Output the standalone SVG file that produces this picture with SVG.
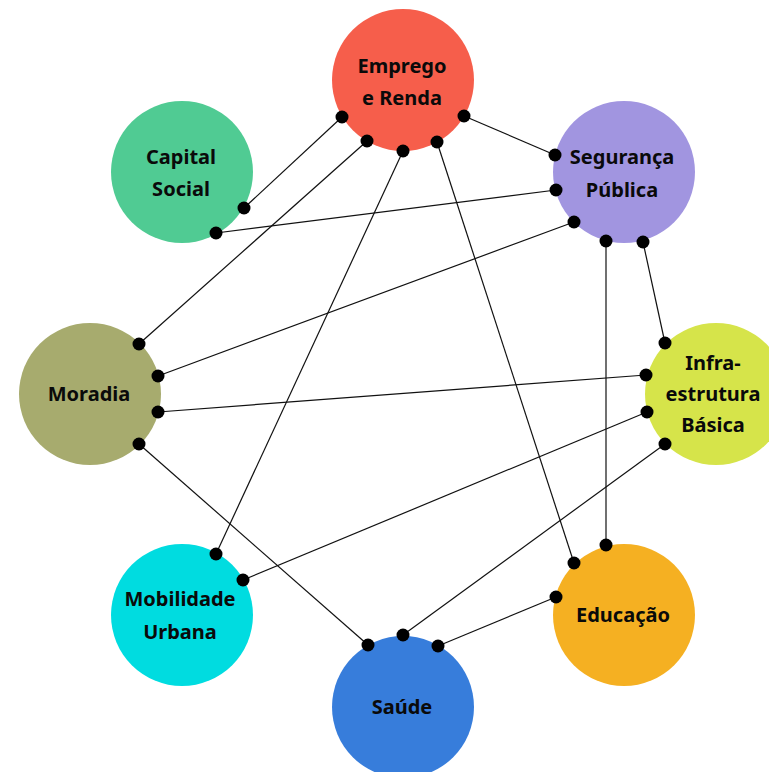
<svg xmlns="http://www.w3.org/2000/svg" width="769" height="772" viewBox="0 0 769 772">
<style>
.lbl{font-family:"Noto Sans","Open Sans","DejaVu Sans",sans-serif;font-weight:bold;font-size:20px;fill:#0a0a0a;text-anchor:middle}
.c line{stroke:#111;stroke-width:1.2}
.d{fill:#000}
</style>
<rect width="769" height="772" fill="#fff"/>
<g id="n-emprego"><circle cx="403" cy="80" r="71" fill="#f65e4b"/><text class="lbl" x="402" y="73">Emprego</text><text class="lbl" x="402" y="105">e Renda</text></g>
<g id="n-capital"><circle cx="182" cy="172" r="71" fill="#50cb93"/><text class="lbl" x="181" y="164">Capital</text><text class="lbl" x="181" y="196">Social</text></g>
<g id="n-seguranca"><circle cx="624" cy="172" r="71" fill="#a195e0"/><text class="lbl" x="622" y="164">Segurança</text><text class="lbl" x="622" y="197">Pública</text></g>
<g id="n-moradia"><circle cx="90" cy="394" r="71" fill="#a7ab6e"/><text class="lbl" x="89" y="401">Moradia</text></g>
<g id="n-infra"><circle cx="716" cy="394" r="71" fill="#d6e44a"/><text class="lbl" x="713" y="370">Infra-</text><text class="lbl" x="713" y="401">estrutura</text><text class="lbl" x="713" y="432">Básica</text></g>
<g id="n-mobilidade"><circle cx="182" cy="615" r="71" fill="#00dce0"/><text class="lbl" x="180" y="606">Mobilidade</text><text class="lbl" x="180" y="639">Urbana</text></g>
<g id="n-educacao"><circle cx="624" cy="615" r="71" fill="#f5b022"/><text class="lbl" x="623" y="622">Educação</text></g>
<g id="n-saude"><circle cx="403" cy="707" r="71" fill="#377ddb"/><text class="lbl" x="402" y="714">Saúde</text></g>
<g id="connectors" class="c">
<line x1="342" y1="117" x2="244" y2="208"/>
<line x1="464" y1="116" x2="555" y2="155"/>
<line x1="367" y1="141" x2="139" y2="344"/>
<line x1="403" y1="151" x2="216" y2="554"/>
<line x1="437" y1="142" x2="574" y2="563"/>
<line x1="216" y1="233" x2="556" y2="190"/>
<line x1="574" y1="222" x2="158" y2="376"/>
<line x1="606" y1="241" x2="606" y2="545"/>
<line x1="643" y1="242" x2="665" y2="343"/>
<line x1="646" y1="375" x2="158" y2="412"/>
<line x1="647" y1="412" x2="243" y2="580"/>
<line x1="665" y1="444" x2="403" y2="635"/>
<line x1="139" y1="444" x2="368" y2="645"/>
<line x1="556" y1="597" x2="438" y2="646"/>
<g class="d">
<circle cx="342" cy="117" r="6.5"/><circle cx="367" cy="141" r="6.5"/><circle cx="403" cy="151" r="6.5"/><circle cx="437" cy="142" r="6.5"/><circle cx="464" cy="116" r="6.5"/>
<circle cx="244" cy="208" r="6.5"/><circle cx="216" cy="233" r="6.5"/>
<circle cx="555" cy="155" r="6.5"/><circle cx="556" cy="190" r="6.5"/><circle cx="574" cy="222" r="6.5"/><circle cx="606" cy="241" r="6.5"/><circle cx="643" cy="242" r="6.5"/>
<circle cx="139" cy="344" r="6.5"/><circle cx="158" cy="376" r="6.5"/><circle cx="158" cy="412" r="6.5"/><circle cx="139" cy="444" r="6.5"/>
<circle cx="665" cy="343" r="6.5"/><circle cx="646" cy="375" r="6.5"/><circle cx="647" cy="412" r="6.5"/><circle cx="665" cy="444" r="6.5"/>
<circle cx="216" cy="554" r="6.5"/><circle cx="243" cy="580" r="6.5"/>
<circle cx="606" cy="545" r="6.5"/><circle cx="574" cy="563" r="6.5"/><circle cx="556" cy="597" r="6.5"/>
<circle cx="368" cy="645" r="6.5"/><circle cx="403" cy="635" r="6.5"/><circle cx="438" cy="646" r="6.5"/>
</g>
</g>
</svg>
